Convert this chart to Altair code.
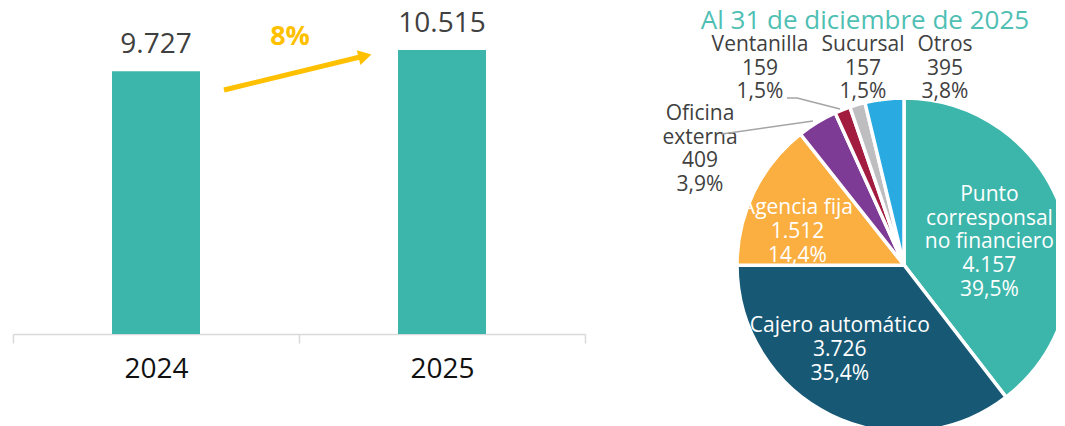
import altair as alt
import pandas as pd

# ---------------- data ----------------
years = ["2024", "2025"]
totals = [9727, 10515]

channels = ["Punto corresponsal no financiero", "Cajero automático", "Agencia fija",
            "Oficina externa", "Ventanilla", "Sucursal", "Otros"]
channel_names = ["Punto\ncorresponsal\nno financiero", "Cajero automático", "Agencia fija",
                 "Oficina\nexterna", "Ventanilla", "Sucursal", "Otros"]
channel_values = [4157, 3726, 1512, 409, 159, 157, 395]
pie_title = "Al 31 de diciembre de 2025"

colors = ["#3CB6AB", "#175874", "#FBAF41", "#7E3B95", "#A21C40", "#BEBEC0", "#29AAE1"]
TEAL = "#3CB6AB"
YELLOW = "#FFC000"
FONT = "Open Sans"


def fmt_int(v):
    return f"{v:,}".replace(",", ".")


def fmt_pct(p):
    return f"{p:.1f}".replace(".", ",") + "%"


total = sum(channel_values)
labels = [f"{n}\n{fmt_int(v)}\n{fmt_pct(v / total * 100)}" for n, v in zip(channel_names, channel_values)]
pie_df = pd.DataFrame({
    "cat": channels,
    "value": channel_values,
    "idx": list(range(len(channels))),
    "label": labels,
})

bar_df = pd.DataFrame({"year": years, "total": totals, "label": [fmt_int(v) for v in totals]})
growth = (totals[1] / totals[0] - 1) * 100
arrow_df = pd.DataFrame({"label": [f"{round(growth)}%"]})

# ---------------- bar chart ----------------
xenc = alt.X("year:N", title=None,
             scale=alt.Scale(paddingInner=0, paddingOuter=0),
             axis=alt.Axis(labelAngle=0, labelFont=FONT, labelFontSize=28, labelColor="#111111",
                           labelBaseline="alphabetic", labelPadding=34, tickBand="extent",
                           tickSize=9, tickColor="#D9D9D9", tickWidth=1.5,
                           domainColor="#D9D9D9", domainWidth=1.5, grid=False))
yenc = alt.Y("total:Q", scale=alt.Scale(domain=[0, 12000]), axis=None)

bars = alt.Chart(bar_df).mark_bar(size=88, color=TEAL).encode(x=xenc, y=yenc)
bar_vals = alt.Chart(bar_df).mark_text(dy=-18, baseline="alphabetic", fontSize=28, font=FONT,
                                        color="#404040").encode(x=xenc, y=yenc, text="label:N")
arrow_line = alt.Chart(arrow_df).mark_rule(color=YELLOW, strokeWidth=5).encode(
    x=alt.value(211), y=alt.value(80), x2=alt.value(347), y2=alt.value(47))
arrow_head = alt.Chart(arrow_df).mark_point(shape="triangle-right", filled=True, size=230,
                                            color=YELLOW, opacity=1, angle=346).encode(
    x=alt.value(352), y=alt.value(46))
arrow_text = alt.Chart(arrow_df).mark_text(fontSize=27, fontWeight="bold", font=FONT,
                                           color=YELLOW, baseline="middle").encode(
    x=alt.value(277), y=alt.value(27), text="label:N")

bar_chart = alt.layer(bars, bar_vals, arrow_line, arrow_head, arrow_text).properties(width=572, height=324)

# ---------------- pie chart ----------------
GX0, GY0 = 601, 8          # page position of the pie panel's origin


def gx(px):
    return px - GX0


def gy(py):
    return py - GY0


CX, CY, R = gx(904), gy(263), 167
theta_scale = alt.Scale(domain=[0, total])

base = alt.Chart(pie_df).transform_window(
    cum="sum(value)", sort=[alt.SortField("idx")], frame=[None, 0]
).transform_calculate(
    start="datum.cum - datum.value", mid="datum.cum - datum.value / 2"
)

arcs = base.mark_arc(outerRadius=R, stroke="white", strokeWidth=3.5, clip=True).encode(
    theta=alt.Theta("start:Q", scale=theta_scale),
    theta2="cum:Q",
    color=alt.Color("cat:N", scale=alt.Scale(domain=channels, range=colors), legend=None),
    x=alt.value(CX), y=alt.value(CY))

LBL = dict(fontSize=21, font=FONT, lineBreak="\n", lineHeight=23.7, baseline="middle")

inner_offsets = {"Punto corresponsal no financiero": (-14, -36),
                 "Cajero automático": (-18, -33),
                 "Agencia fija": (-12, -11)}
inner_layers = []
for c, (ddx, ddy) in inner_offsets.items():
    inner_layers.append(
        base.transform_filter(alt.datum.cat == c).mark_text(
            radius=105, dx=ddx, dy=ddy, color="white", clip=True, **LBL).encode(
            theta=alt.Theta("mid:Q", scale=theta_scale),
            text="label:N", x=alt.value(CX), y=alt.value(CY)))

outer_pos = {"Oficina externa": (700, 112), "Ventanilla": (760, 43),
             "Sucursal": (863, 43), "Otros": (945, 43)}
outer_layers = []
for c, (px, py) in outer_pos.items():
    outer_layers.append(
        alt.Chart(pie_df).transform_filter(alt.datum.cat == c).mark_text(
            color="#404040", **LBL).encode(text="label:N", x=alt.value(gx(px)), y=alt.value(gy(py))))

one = pd.DataFrame({"k": [0]})
leaders = []
for (x1, y1, x2, y2) in [(722, 132, 813, 119), (787, 96, 797, 96), (797, 96, 840, 107)]:
    leaders.append(alt.Chart(one).mark_rule(color="#A5A5A5", strokeWidth=1.5).encode(
        x=alt.value(gx(x1)), y=alt.value(gy(y1)), x2=alt.value(gx(x2)), y2=alt.value(gy(y2))))

title_df = pd.DataFrame({"t": [pie_title]})
title_text = alt.Chart(title_df).mark_text(fontSize=26, font=FONT, color="#4FBFB4",
                                           baseline="middle").encode(
    text="t:N", x=alt.value(gx(865)), y=alt.value(gy(19)))

pie = alt.layer(arcs, *inner_layers, *outer_layers, *leaders, title_text).properties(
    width=1056 - GX0, height=418)

chart = alt.hconcat(bar_chart, pie, spacing=15).properties(
    padding={"left": 4, "top": 0, "right": 0, "bottom": 0}
).configure_view(strokeWidth=0)

chart.save("out.html", embed_options={"renderer": "svg", "actions": False})
